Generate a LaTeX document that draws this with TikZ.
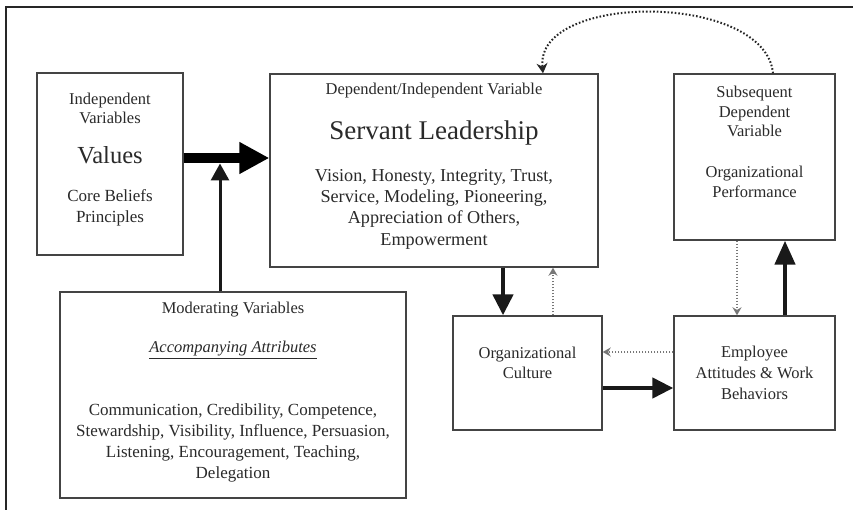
\documentclass[tikz,border=0pt]{standalone}
\usepackage{fontspec}
\setmainfont{Liberation Serif}
\usetikzlibrary{arrows.meta,calc}
\definecolor{txtc}{HTML}{2A2A2A}
\definecolor{boxc}{HTML}{444444}
\definecolor{dotc}{HTML}{777777}
\tikzset{
  box/.style={draw=boxc, line width=1.4pt, inner sep=0pt},
  txt/.style={text=txtc, align=center, inner sep=0pt, font=\fontsize{16.5}{19.5}\selectfont},
  body/.style={text=txtc, align=center, inner sep=0pt, font=\fontsize{17}{21}\selectfont},
  bigarrow/.style={draw=black, line width=10pt, -{Triangle[length=30pt,width=30pt]}},
  thickarrow/.style={draw=black!90, line width=4.5pt, -{Triangle[length=21pt,width=20pt]}},
  medarrow/.style={draw=black!90, line width=3pt, -{Triangle[length=17pt,width=18pt]}},
  dotarrow/.style={draw=dotc, line width=1.3pt, dash pattern=on 1.4pt off 1.6pt, -{Stealth[length=8pt,width=9pt]}},
  arcarrow/.style={draw=black!85, line width=2pt, dash pattern=on 1.6pt off 2pt, -{Stealth[length=10pt,width=11pt]}},
}
\begin{document}
\begin{tikzpicture}[x=1pt,y=-1pt]
\useasboundingbox (0,0) rectangle (853,510);
\fill[white] (0,0) rectangle (853,510);
% outer frame (cropped on right and bottom)
\draw[line width=2pt, black!85] (6,512) -- (6,7) -- (855,7);

% boxes
\node[box, minimum width=146pt, minimum height=182pt] (val) at (110,164) {};
\node[box, minimum width=328pt, minimum height=193pt] (sl) at (434,170.5) {};
\node[box, minimum width=161pt, minimum height=166pt] (sub) at (754.5,157) {};
\node[box, minimum width=346pt, minimum height=206pt] (mod) at (233,395) {};
\node[box, minimum width=149pt, minimum height=114pt] (oc) at (527.5,373) {};
\node[box, minimum width=161pt, minimum height=114pt] (emp) at (754.5,373) {};

% texts
\node[txt] (valA) at (110,108.5) {Independent\\Variables};
\node[txt, font=\fontsize{24.5}{27}\selectfont] (valB) at (110,155) {Values};
\node[body] (valC) at (110,207.5) {Core Beliefs\\Principles};

\node[txt] (slA) at (434,91) {Dependent/Independent Variable};
\node[txt, font=\fontsize{27}{30}\selectfont] (slB) at (434,133) {Servant Leadership};
\node[body, font=\fontsize{18.2}{21.3}\selectfont] (slC) at (434,209) {Vision, Honesty, Integrity, Trust,\\Service, Modeling, Pioneering,\\Appreciation of Others,\\Empowerment};

\node[txt] (subA) at (754.5,111.5) {Subsequent\\Dependent\\Variable};
\node[body, font=\fontsize{16.5}{20}\selectfont] (subB) at (754.5,182) {Organizational\\Performance};

\node[txt] (modA) at (233,310) {Moderating Variables};
\node[txt] (modB) at (233,350) {\underline{\textit{Accompanying Attributes}}};
\node[body] (modC) at (233,443) {Communication, Credibility, Competence,\\Stewardship, Visibility, Influence, Persuasion,\\Listening, Encouragement, Teaching,\\Delegation};

\node[txt, font=\fontsize{16.5}{20}\selectfont] (ocT) at (527.5,363) {Organizational\\Culture};
\node[txt, font=\fontsize{16.5}{21}\selectfont] (empT) at (754.5,373) {Employee\\Attitudes \& Work\\Behaviors};

% junction points
\coordinate (jh) at (220,158);
\coordinate (jt) at (220,163.5);

% connectors
\draw[bigarrow] (val.east |- jh) -- (sl.west |- jh);
\draw[medarrow] (mod.north -| jt) -- (jt);
\draw[thickarrow] ([xshift=-24.5pt]oc.north |- sl.south) -- ([xshift=-24.5pt]oc.north);
\draw[dotarrow] ([xshift=25.5pt]oc.north) -- ([xshift=25.5pt]oc.north |- sl.south);
\draw[dotarrow] ([xshift=-17.5pt]sub.south) -- ([xshift=-17.5pt]emp.north);
\draw[thickarrow, -{Triangle[length=24pt,width=20pt]}] ([xshift=30.5pt]emp.north) -- ([xshift=30.5pt]sub.south);
\draw[dotarrow] ([yshift=21pt]emp.west) -- ([yshift=21pt]emp.west -| oc.east);
\draw[thickarrow] ([yshift=-15pt]oc.east) -- ([yshift=-15pt]oc.east -| emp.west);
\draw[arcarrow] ([xshift=18.5pt]sub.north) .. controls (765,-8) and (535,-8) .. ([xshift=109pt]sl.north);
\end{tikzpicture}
\end{document}
